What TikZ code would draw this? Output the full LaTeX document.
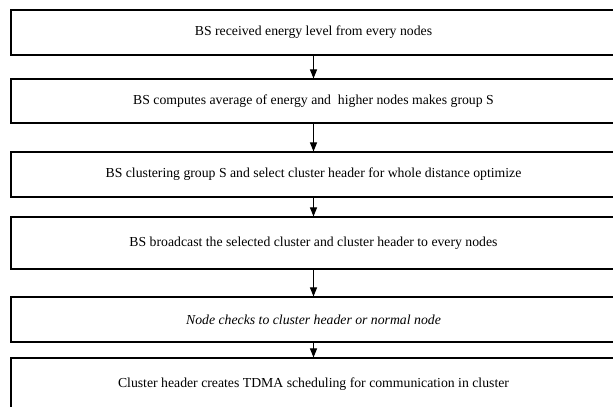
\documentclass[tikz,border=0pt]{standalone}
\usepackage{fontspec}
\setmainfont{Liberation Serif}
\usetikzlibrary{arrows.meta}
\begin{document}
\begin{tikzpicture}[x=1bp,y=-1bp,
  box/.style={draw, line width=1.1bp, minimum width=605bp, inner sep=0pt,
    font=\fontsize{13.8}{16}\selectfont},
  arr/.style={-{Triangle[length=9bp,width=7bp]}, line width=1bp}]
\useasboundingbox (0,0) rectangle (613,406);
\clip (0,0) rectangle (613,406);
\node[box, minimum height=45bp] (b1) at (313.5,32.5) {BS received energy level from every nodes};
\node[box, minimum height=44bp] (b2) at (313.5,101) {BS computes average of energy and\ \ higher nodes makes group S};
\node[box, minimum height=45bp] (b3) at (313.5,174.5) {BS clustering group S and select cluster header for whole distance optimize};
\node[box, minimum height=52bp] (b4) at (313.5,243) {BS broadcast the selected cluster and cluster header to every nodes};
\node[box, minimum height=45bp] (b5) at (313.5,319.5) {\itshape Node checks to cluster header or normal node};
\node[box, minimum height=52bp] (b6) at (313.5,384) {Cluster header creates TDMA scheduling for communication in cluster};
\draw[arr] (b1) -- (b2);
\draw[arr] (b2) -- (b3);
\draw[arr] (b3) -- (b4);
\draw[arr] (b4) -- (b5);
\draw[arr] (b5) -- (b6);
\end{tikzpicture}
\end{document}
